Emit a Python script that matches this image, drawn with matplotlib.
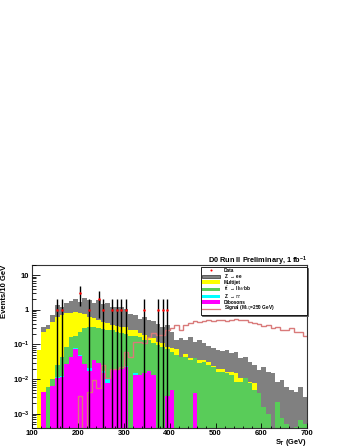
import numpy as np
import matplotlib
matplotlib.use("Agg")
import matplotlib.pyplot as plt
from matplotlib.patches import Patch
from matplotlib.lines import Line2D
from matplotlib.ticker import FixedLocator, FixedFormatter, MultipleLocator

# ---------------- data ----------------
edges = np.arange(100, 701, 10)

dibosons = [0, 0, 0.0042, 0, 0.0065, 0.0105, 0.0115, 0.027, 0.045, 0.075,
            0.048, 0.028, 0.017, 0.035, 0.030, 0.015, 0.0078, 0.020, 0.020, 0.020,
            0.022, 0, 0.013, 0.013, 0.015, 0.017, 0.013, 0, 0, 0.0032,
            0.005, 0, 0, 0, 0, 0.0039, 0, 0, 0, 0,
            0, 0, 0, 0, 0, 0, 0, 0, 0, 0,
            0, 0, 0, 0, 0, 0, 0, 0, 0, 0]

ztautau = [0, 0, 0, 0, 0, 0.001, 0.001, 0, 0, 0.004,
           0.002, 0, 0.004, 0, 0, 0.002, 0.002, 0, 0, 0,
           0.002, 0, 0.002, 0, 0, 0, 0, 0, 0, 0,
           0, 0, 0, 0, 0, 0, 0, 0, 0, 0,
           0, 0, 0, 0, 0, 0, 0, 0, 0, 0,
           0, 0, 0, 0, 0, 0, 0, 0, 0, 0]

ttbar = [0, 0, 0, 0.006, 0.0039, 0.0138, 0.0315, 0.0587, 0.114, 0.095,
         0.182, 0.262, 0.288, 0.274, 0.26, 0.254, 0.249, 0.239, 0.212, 0.197,
         0.183, 0.174, 0.159, 0.146, 0.118, 0.116, 0.099, 0.0957, 0.0819, 0.0686,
         0.056, 0.0492, 0.0422, 0.044, 0.0353, 0.0356, 0.0283, 0.0316, 0.0253, 0.0217,
         0.0163, 0.0163, 0.0146, 0.013, 0.0084, 0.0084, 0.0105, 0.0075, 0.0048, 0.0039,
         0.0016, 0.001, 0, 0.0022, 0.00074, 0.0005, 0, 0.00043, 0.00066, 0.0005]

multijet = [0, 0.0687, 0.228, 0.265, 0.441, 0.603, 0.658, 0.698, 0.661, 0.683,
            0.552, 0.46, 0.319, 0.253, 0.213, 0.18, 0.163, 0.102, 0.106, 0.092,
            0.102, 0.085, 0.085, 0.058, 0.053, 0.033, 0.037, 0.023, 0.030, 0.014,
            0.0157, 0.0226, 0.0018, 0.0086, 0.0042, 0.002, 0.007, 0.004, 0.006, 0.003,
            0.0027, 0.0027, 0.0017, 0.0033, 0.0068, 0.0021, 0, 0.0009, 0.003, 0,
            0, 0, 0, 0, 0, 0, 0, 0, 0, 0]

zee = [0, 0, 0.077, 0.09, 0.251, 0.73, 0.52, 0.74, 1.0, 1.13,
       0.92, 1.37, 1.27, 0.96, 1.40, 1.01, 1.10, 0.86, 0.88, 0.86,
       0.78, 0.52, 0.44, 0.34, 0.44, 0.33, 0.33, 0.28, 0.21, 0.27,
       0.153, 0.061, 0.105, 0.080, 0.12, 0.080, 0.098, 0.075, 0.060, 0.054,
       0.050, 0.045, 0.052, 0.039, 0.046, 0.029, 0.0335, 0.023, 0.0175, 0.0143,
       0.021, 0.0153, 0.0146, 0.0062, 0.0087, 0.0055, 0.0048, 0.0039, 0.0053, 0.0026]

signal = [0, 0, 0, 0, 0, 0, 0, 0, 0, 0,
          0.0032, 0, 0.0043, 0.0093, 0.0054, 0.026, 0.0105, 0.020, 0.020, 0.022,
          0.061, 0.044, 0.12, 0.12, 0.107, 0.168, 0.21, 0.19, 0.19, 0.26,
          0.29, 0.36, 0.27, 0.36, 0.42, 0.48, 0.45, 0.48, 0.50, 0.48,
          0.50, 0.52, 0.48, 0.50, 0.56, 0.50, 0.50, 0.45, 0.42, 0.39,
          0.34, 0.36, 0.29, 0.31, 0.26, 0.26, 0.29, 0.23, 0.23, 0.17]

data_st = [155, 165, 205, 225, 245, 255, 275, 285, 295, 305, 345, 375, 385, 395]
data_n = [1, 1, 3, 1, 2, 1, 1, 1, 1, 1, 1, 1, 1, 1]

xticks = [100, 200, 300, 400, 500, 600, 700]
yticks = [1e-3, 1e-2, 1e-1, 1, 10]
yticklabels = [r'$\mathbf{10^{-3}}$', r'$\mathbf{10^{-2}}$', r'$\mathbf{10^{-1}}$', '1', '10']

# ---------------- style ----------------
FONT = 'Liberation Sans'
plt.rcParams['font.family'] = [FONT, 'DejaVu Sans']
plt.rcParams['mathtext.fontset'] = 'custom'
plt.rcParams['mathtext.rm'] = FONT
plt.rcParams['mathtext.bf'] = FONT + ':bold'
plt.rcParams['mathtext.it'] = FONT + ':italic'

col_zee = '#808080'
col_mj = '#ffff00'
col_tt = '#59cc59'
col_tau = '#00ffff'
col_db = '#ff00ff'
col_sig = '#d97a7a'

W, H = 346, 448
fig = plt.figure(figsize=(W / 100, H / 100), dpi=100)
ax = fig.add_axes([32 / W, 1 - 428 / H, 275.3 / W, 163.3 / H])

ymin, ymax = 3.9e-4, 20
floor = 1e-7

comps = [dibosons, ztautau, ttbar, multijet, zee]
cols = [col_db, col_tau, col_tt, col_mj, col_zee]
cum = np.cumsum(np.array(comps, dtype=float), axis=0)
# draw from the top of the stack downward (THStack style)
for k in range(len(comps) - 1, -1, -1):
    vals = np.where(cum[k] > 0, cum[k], floor)
    ax.stairs(vals, edges, baseline=floor, fill=True, color=cols[k], lw=0,
              antialiased=False)

ax.stairs(np.where(np.array(signal) > 0, signal, floor), edges, baseline=None,
          color=col_sig, lw=1.0)

dn = np.array(data_n, dtype=float)
err = np.sqrt(dn)
lo = np.clip(dn - err, floor, None)
ax.vlines(data_st, lo, dn + err, color='black', lw=1.0, zorder=5)
ax.plot(data_st, dn, 'o', color='red', ms=1.8, mew=0, zorder=6)

ax.set_yscale('log')
ax.set_xlim(100, 700)
ax.set_ylim(ymin, ymax)

ax.xaxis.set_major_locator(FixedLocator(xticks))
ax.xaxis.set_minor_locator(MultipleLocator(20))
ax.yaxis.set_major_locator(FixedLocator(yticks))
ax.yaxis.set_major_formatter(FixedFormatter(yticklabels))
ax.tick_params(axis='both', which='both', direction='in', top=False, right=False,
               labelsize=5.5, colors='black', width=0.6)
ax.tick_params(axis='y', which='major', length=5.8, pad=2)
ax.tick_params(axis='y', which='minor', length=3.0)
ax.tick_params(axis='x', which='major', length=3.6, pad=1.5)
ax.tick_params(axis='x', which='minor', length=1.8)
for lab in ax.get_xticklabels() + ax.get_yticklabels():
    lab.set_fontweight('bold')
for s in ax.spines.values():
    s.set_linewidth(0.8)
    s.set_color('#333333')

ax.set_axisbelow(False)

fig.text(307 / W, 1 - 443.5 / H, r'S$_{\mathbf{T}}$ (GeV)', ha='right', va='baseline',
         fontsize=5.3, fontweight='bold')
fig.text(5 / W, 1 - 265 / H, 'Events/10 GeV', rotation=90, ha='center', va='top',
         fontsize=5.5, fontweight='bold')
fig.text(307 / W, 1 - 263.5 / H, r'D0 Run II Preliminary, 1 fb$^{\mathbf{-1}}$',
         ha='right', va='baseline', fontsize=5.3, fontweight='bold')

handles = [
    Line2D([], [], ls='none', marker='o', color='red', ms=1.5, mew=0),
    Patch(facecolor=col_zee, edgecolor='#333333', lw=0.5),
    Patch(facecolor=col_mj, edgecolor='none'),
    Patch(facecolor=col_tt, edgecolor='none'),
    Patch(facecolor=col_tau, edgecolor='none'),
    Patch(facecolor=col_db, edgecolor='none'),
    Line2D([], [], color=col_sig, lw=0.9),
]
labels = ['Data', r'Z $\rightarrow$ ee', 'Multijet',
          r't$\bar{\mathrm{t}}$ $\rightarrow$ ll$\nu\nu$bb', r'Z $\rightarrow$ $\tau\tau$',
          'Dibosons', r'Signal (M$_{\mathrm{LQ}}$=250 GeV)']
leg = ax.legend(handles, labels, loc='upper left',
                bbox_to_anchor=(201 / W, 1 - 267 / H, 106 / W, 0.0),
                bbox_transform=fig.transFigure, mode='expand',
                fontsize=3.4, frameon=True, fancybox=False, framealpha=1,
                edgecolor='black', borderpad=0.15, labelspacing=-0.12,
                handlelength=3.9, handleheight=0.75, handletextpad=0.75,
                borderaxespad=0, shadow={'ox': 0.8, 'oy': -0.8, 'color': '#555555', 'alpha': 1})
leg.get_frame().set_linewidth(0.6)
for t in leg.get_texts():
    t.set_fontweight('bold')

fig.savefig('out.png', dpi=100)
